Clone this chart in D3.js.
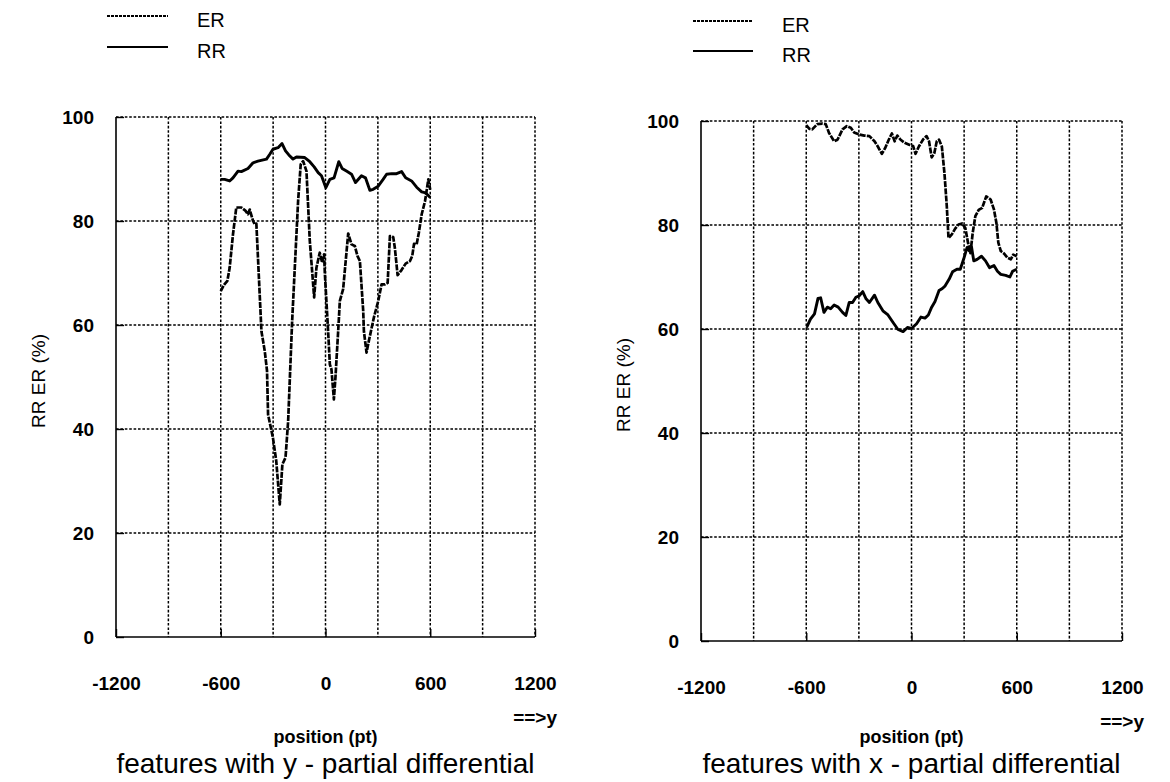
<!DOCTYPE html>
<html>
<head>
<meta charset="utf-8">
<script src="https://cdn.jsdelivr.net/npm/d3@7"></script>
<style>
  html, body { margin: 0; padding: 0; background: #fff; }
  svg { display: block; }
  text { font-family: "Liberation Sans", Arial, Helvetica, sans-serif; fill: #000; }
</style>
</head>
<body>
<svg id="chart" width="1170" height="782"></svg>
<script>
// Axis ticks
const xTicks = [-1200, -600, 0, 600, 1200];
const xGrid = [-900, -600, -300, 0, 300, 600, 900, 1200];
const yTicks = [0, 20, 40, 60, 80, 100];
const seriesNames = ["ER", "RR"];

// y - partial differential: RR
const yRRPos = [-600,-578,-549,-530,-501,-482,-444,-415,-387,-338,-320,-301,-272,-249,-229,-210,-186,-166,-119,-90,-65,-42,-23,2,25,49,76,95,120,149,172,206,229,254,273,302,330,350,379,407,436,459,493,522,551,574,600];
const yRRVal = [88.0,88.0,87.7,88.3,89.6,89.5,90.1,91.2,91.5,91.9,92.8,93.8,94.1,94.9,93.5,92.7,91.9,92.3,92.2,91.4,90.4,89.3,88.7,86.4,88.0,88.3,91.4,90.1,89.6,89.0,87.4,88.7,88.3,85.9,86.1,86.7,88.0,89.0,89.1,89.1,89.5,88.3,87.7,86.5,85.6,85.4,84.5];

// y - partial differential: ER
const yERPos = [-600,-582,-562,-549,-530,-511,-482,-459,-444,-434,-415,-406,-396,-367,-348,-335,-329,-301,-282,-262,-247,-229,-214,-191,-157,-142,-128,-109,-90,-65,-52,-33,-19,-8,-4,15,25,34,48,57,76,82,101,130,149,168,183,197,216,220,235,248,273,279,302,321,340,356,369,388,397,413,432,459,484,497,507,522,535,551,570,589,600];
const yERVal = [66.5,67.7,68.5,71.0,77.4,82.6,82.6,82.0,81.3,82.2,80.0,79.4,79.5,58.8,55.0,51.2,42.8,38.3,33.8,25.5,33.2,34.5,41.5,60.8,83.8,90.9,91.5,89.6,76.2,65.3,71.0,73.9,72.0,73.6,70.1,58.8,52.4,51.5,45.7,49.9,60.8,64.6,66.9,77.6,75.5,75.2,73.3,72.3,62.7,58.8,54.7,56.9,60.8,61.7,64.6,67.8,67.8,68.1,77.1,76.9,74.9,69.6,70.4,71.8,72.3,73.3,75.6,75.5,77.8,81.3,83.8,88.0,86.0];

// x - partial differential: ER
const xERPos = [-600,-582,-566,-537,-508,-489,-470,-441,-422,-393,-369,-346,-327,-298,-269,-240,-211,-192,-169,-150,-131,-112,-96,-81,-62,-39,-10,9,23,42,67,86,100,115,130,144,157,173,188,201,211,230,249,268,288,307,322,336,349,364,383,403,426,451,470,484,495,509,528,547,566,580,600];
const xERVal = [99.2,98.5,98.4,99.4,99.5,99.4,97.7,96.1,96.4,98.4,99.0,98.7,97.8,97.4,97.2,97.1,96.1,95.1,93.7,94.8,96.3,97.6,96.1,97.2,96.4,95.8,95.4,95.2,93.7,95.1,96.5,97.1,96.1,93.0,93.8,96.1,96.4,95.1,89.9,83.7,77.5,78.2,79.3,80.1,80.3,79.4,76.6,74.6,78.5,81.7,82.9,83.3,85.5,84.9,83.0,80.4,76.6,75.0,74.5,73.7,73.4,74.3,74.0];

// x - partial differential: RR
const xRRPos = [-600,-595,-576,-553,-533,-518,-499,-480,-461,-441,-418,-393,-374,-355,-336,-317,-298,-278,-259,-240,-211,-192,-163,-134,-106,-77,-48,-23,0,29,54,77,96,115,134,157,176,192,215,234,259,278,297,317,330,342,355,374,399,422,445,470,490,509,537,561,576,600];
const xRRVal = [60.6,60.5,61.9,62.9,65.9,66.0,63.2,64.2,63.9,64.6,64.2,63.2,62.6,65.1,65.1,66.1,66.4,67.2,65.8,65.1,66.5,65.1,63.5,62.7,61.3,59.9,59.5,60.3,60.1,61.0,62.3,62.1,62.7,64.2,65.3,67.4,67.8,68.3,69.6,71.0,71.5,71.5,73.4,75.7,75.0,75.8,73.1,73.4,74.0,73.1,71.8,72.2,71.1,70.5,70.3,70.0,71.1,71.5];

const svg = d3.select("#chart");

function zip(pos, val) { return pos.map((p, i) => ({ p, v: val[i] })); }

const panels = [
  {
    left: 116, right: 535, top: 117, bottom: 637,
    legend: { x1: 107, x2: 168, tx: 197, y: 16, dy: 31 },
    title: "features with y - partial differential",
    er: zip(yERPos, yERVal), rr: zip(yRRPos, yRRVal)
  },
  {
    left: 701, right: 1122, top: 121, bottom: 641,
    legend: { x1: 693, x2: 753, tx: 782, y: 21, dy: 30 },
    title: "features with x - partial differential",
    er: zip(xERPos, xERVal), rr: zip(xRRPos, xRRVal)
  }
];

const styles = {
  ER: { width: 2.7, dash: "6,1.2" },
  RR: { width: 2.9, dash: null }
};

const FONT = "Liberation Sans, Arial, sans-serif";
const TITLE_BASELINE = 773;

panels.forEach(cfg => {
  const x = d3.scaleLinear().domain([-1200, 1200]).range([cfg.left, cfg.right]);
  const y = d3.scaleLinear().domain([0, 100]).range([cfg.bottom, cfg.top]);
  const g = svg.append("g");

  // dotted grid
  g.append("g").selectAll("line").data(xGrid).join("line")
    .attr("x1", d => x(d)).attr("x2", d => x(d))
    .attr("y1", y(100)).attr("y2", y(0))
    .attr("stroke", "#000").attr("stroke-width", 1.5).attr("stroke-dasharray", "2.6,1.8");
  g.append("g").selectAll("line").data(yTicks.filter(d => d > 0)).join("line")
    .attr("x1", x(-1200)).attr("x2", x(1200))
    .attr("y1", d => y(d)).attr("y2", d => y(d))
    .attr("stroke", "#000").attr("stroke-width", 1.5).attr("stroke-dasharray", "2.6,1.8");

  // axes: solid left and bottom lines, inward ticks
  const xAxis = d3.axisBottom(x).tickValues(xTicks).tickSize(-8).tickFormat(d => String(d)).tickPadding(40);
  const yAxis = d3.axisLeft(y).tickValues(yTicks).tickSize(-8).tickFormat(d => String(d)).tickPadding(22);

  const gx = g.append("g").attr("transform", `translate(0,${cfg.bottom})`).call(xAxis);
  gx.select(".domain").attr("stroke", "#000").attr("stroke-width", 1.6).attr("d", `M${cfg.left},0H${cfg.right}`);
  gx.selectAll(".tick line").attr("stroke", "#000").attr("stroke-width", 1.4);
  gx.selectAll(".tick text").attr("font-size", 19).attr("font-weight", "bold")
    .attr("font-family", FONT).attr("fill", "#000");

  const gy = g.append("g").attr("transform", `translate(${cfg.left},0)`).call(yAxis);
  gy.select(".domain").attr("stroke", "#000").attr("stroke-width", 1.6).attr("d", `M0,${cfg.top}V${cfg.bottom}`);
  gy.selectAll(".tick line").attr("stroke", "#000").attr("stroke-width", 1.4);
  gy.selectAll(".tick text").attr("font-size", 19).attr("font-weight", "bold")
    .attr("font-family", FONT).attr("fill", "#000");

  // series lines
  const line = d3.line().x(d => x(d.p)).y(d => y(d.v));
  [["ER", cfg.er], ["RR", cfg.rr]].forEach(([name, data]) => {
    g.append("path").datum(data)
      .attr("d", line)
      .attr("fill", "none")
      .attr("stroke", "#000")
      .attr("stroke-width", styles[name].width)
      .attr("stroke-linejoin", "round")
      .attr("stroke-dasharray", styles[name].dash);
  });

  // legend
  const L = cfg.legend;
  seriesNames.forEach((name, i) => {
    const ly = L.y + i * L.dy;
    g.append("line").attr("x1", L.x1).attr("x2", L.x2).attr("y1", ly).attr("y2", ly)
      .attr("stroke", "#000").attr("stroke-width", name === "RR" ? 2.2 : 1.8)
      .attr("stroke-dasharray", name === "ER" ? "3,1" : null);
    g.append("text").attr("x", L.tx).attr("y", ly + 4).attr("dy", "0.35em")
      .attr("font-size", 20).text(name);
  });

  // axis titles
  g.append("text")
    .attr("transform", `translate(${cfg.left - 78},${(cfg.top + cfg.bottom) / 2 + 4}) rotate(-90)`)
    .attr("text-anchor", "middle").attr("dy", "0.35em").attr("font-size", 19)
    .text("RR  ER (%)");
  g.append("text").attr("x", cfg.right + 22).attr("y", cfg.bottom + 80).attr("dy", "0.35em")
    .attr("text-anchor", "end").attr("font-size", 19).attr("font-weight", "bold").text("==>y");
  g.append("text").attr("x", x(0)).attr("y", TITLE_BASELINE - 36).attr("dy", "0.35em")
    .attr("text-anchor", "middle").attr("font-size", 18).attr("font-weight", "bold").text("position (pt)");
  g.append("text").attr("x", x(0)).attr("y", TITLE_BASELINE)
    .attr("text-anchor", "middle").attr("font-size", 28).text(cfg.title);
});
</script>
</body>
</html>
